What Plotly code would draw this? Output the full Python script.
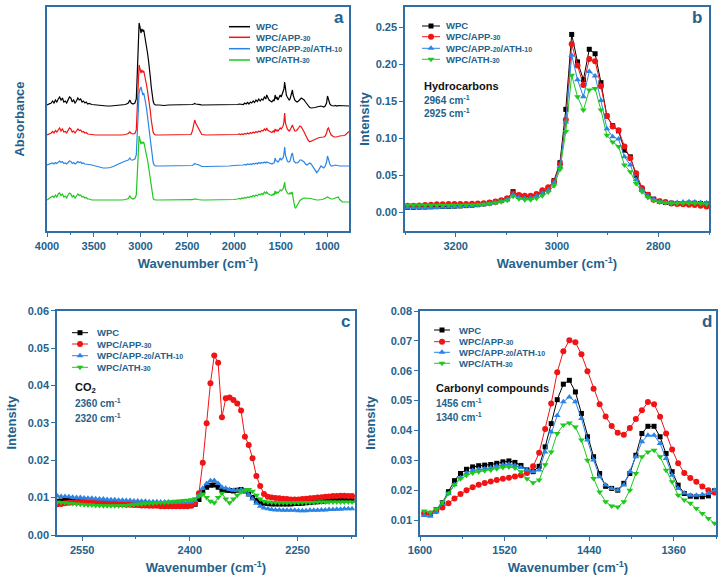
import plotly.graph_objects as go

W, H = 724, 581
SERIES = ["WPC", "WPC/APP-30", "WPC/APP-20/ATH-10", "WPC/ATH-30"]
LEG_LABELS = ["WPC",
              "WPC/APP<span style='font-size:7px'>-30</span>",
              "WPC/APP<span style='font-size:7px'>-20</span>/ATH<span style='font-size:7px'>-10</span>",
              "WPC/ATH<span style='font-size:7px'>-30</span>"]
COLORS = ["#000000", "#f01414", "#2a84e6", "#1ec81e"]
SYMBOLS = ["square", "circle", "triangle-up", "triangle-down"]
MSIZE = [5, 6, 6, 6]

# ---------------- panel a : FTIR spectra (relative absorbance, x0.01) ----------------
WN_A = ([4000, 3985, 3970, 3955, 3940, 3925, 3910, 3895, 3880, 3865, 3850, 3835, 3820, 3805, 3790, 3775,
         3760, 3745, 3730, 3715, 3700, 3685, 3670, 3655, 3640, 3625, 3610, 3595, 3580, 3565, 3550]
        + [3520, 3480, 3440, 3400, 3360, 3320, 3280, 3240, 3200, 3160, 3130, 3114, 3100, 3080, 3060]
        + [3045, 3035, 3025, 3015, 3005, 2995, 2985, 2975, 2965, 2955, 2945, 2935, 2925, 2915, 2905,
           2895, 2885, 2875, 2865, 2855, 2840]
        + [2800, 2750, 2700, 2650, 2600, 2550, 2500, 2460, 2445, 2430, 2420, 2410, 2400, 2390, 2375,
           2360, 2345, 2300, 2250, 2200, 2150, 2100, 2050, 2000]
        + [1960, 1945, 1930, 1915, 1900, 1885, 1870, 1855, 1840, 1825, 1810, 1795, 1780, 1765, 1750,
           1735, 1720, 1705, 1690, 1675, 1660, 1650, 1640, 1625, 1610, 1595, 1580, 1570, 1560, 1550,
           1540, 1530, 1520, 1506, 1495, 1485, 1475, 1466, 1458, 1450, 1440, 1430, 1420, 1410, 1400]
        + [1390, 1382, 1375, 1368, 1360, 1350, 1340, 1325, 1310, 1295, 1280, 1265, 1250, 1235, 1220,
           1205, 1190, 1175, 1160, 1145, 1130, 1115, 1100, 1085, 1070, 1055, 1040, 1025, 1010, 1000,
           990, 975, 960, 945, 930, 915, 900, 885, 870, 855, 840, 825, 810, 795, 780, 770])

ABS_WPC = ([0, 0.5, 1, 2, 4, 2, 5, 3, 6, 8, 5, 7, 3, 4, 2, 5, 8, 7, 3, 5, 2, 4, 7, 5, 6, 3, 4, 2, 3, 1, 1.5]
           + [0.5, 0, -0.5, -1, -1, -1, -0.5, -0.5, 0, 0.5, 2, 5, 2, 1, 2]
           + [6, 30, 65, 82, 78, 72, 76, 74, 75, 70, 66, 60, 52, 45, 38, 28, 18, 10, 4, 1, 0]
           + [0, -0.5, 0, 0, 0, 0, 0, 0, 0.5, 1, 1.5, 1, 1, 1, 0.5, 0.3, 0, 0, 0, 0, 0, 0, 0.3, 0.3]
           + [0.5, 1, 1, 0.5, 0.5, 2, 1, 2.5, 1, 3, 2, 4, 2.5, 5, 3.5, 6, 4, 6, 5, 8, 6,
              10, 7, 5, 4, 3, 5, 4, 10, 6, 8, 5, 7,
              10, 8, 11, 12, 16, 23, 14, 10, 8, 6, 5, 6]
           + [10, 13, 15, 10, 6, 5, 4,
              3, 4, 6, 7, 6, 5, 3, 1, -1, -2.5, -3, -3, -3, -2.5, -2, -1.5, -1, -1, -1.5, -2, -1, 2,
              9, 6,
              1, -0.5, -1, -1, -0.5, -1, -0.5, -0.5, -0.5, -0.5, -1, -1, -1, -1,
              -1])
ABS_APP30 = ([0, 0.5, 1, 2, 3.5, 2, 4.5, 3, 5, 7, 4, 6, 3, 3.5, 2, 4, 7, 6, 3, 4, 2, 4, 6, 4.5, 5, 3, 3.5, 2, 2.5, 1, 1]
             + [0.5, 0, 0, -0.5, -0.5, -0.5, 0, 0, 0, 0.5, 1.5, 3, 1.5, 1, 1.5]
             + [5, 25, 55, 70, 66, 62, 65, 63, 64, 60, 56, 50, 44, 38, 32, 24, 15, 8, 3, 1, 0]
             + [0, 0, 0, 0, 0, 0, 0, 0.5, 4, 11, 15, 12, 10, 9, 5, 2, 0.5, 0, 0, 0, 0, 0, 0.3, 0.5]
             + [0.5, 1, 0.5, 1, 0.5, 1.5, 1, 2, 1, 2.5, 1.5, 3, 2, 3.5, 2.5, 4, 3, 4.5, 4, 6, 4.5,
                7, 5, 4, 3, 2.5, 4, 3, 6, 4, 5, 4, 5,
                7, 6, 8, 9, 13, 22, 12, 8, 6, 5, 4, 5]
             + [7, 9, 10, 8, 5, 4, 4,
                5, 7, 9, 8, 6, 3, 0, -3, -5.5, -6.7, -6, -5, -4.5, -4, -3.5, -3, -2.5, -2.5, -2, -2, -1, 2,
                6, 7,
                3, 0, -1, -2, -2, -2, -1.5, -1, -1, -1, -0.5, 0, 1, 2.5,
                3.5])
ABS_APP20 = ([0, 0.5, 0.5, 1, 2, 1, 2.5, 1.5, 3, 4, 2.5, 3.5, 1.5, 2, 1, 2.5, 4, 3.5, 1.5, 2.5, 1, 2, 3.5, 2.5, 3, 1.5, 2, 1, 1, 0.5, 0.5]
             + [0, -1, -2, -3, -3, -2.5, -1, 1, 2.5, 4, 5, 7, 5, 5, 6]
             + [10, 30, 60, 72, 76, 78, 74, 70, 72, 68, 62, 56, 48, 42, 34, 25, 16, 8, 3, 0, -1]
             + [-1, -1, -1, -1, -1, -1, -1, -1, -0.5, 0.5, 1.5, 1, 1, 0.5, 0, -1, -1.5, -1.5, -1.5, -1.5, -1, -1, -1, -0.5]
             + [-0.5, 0, -0.5, 0, 0, 0.5, 0, 1, 0.5, 1, 0.5, 1.5, 1, 2, 1, 2.5, 1.5, 2.5, 2, 3, 2,
                3, 2.5, 2, 1.5, 1, 2, 2, 7, 4, 4, 3, 4,
                7, 5, 6, 7, 11, 18, 10, 6, 4, 3, 3, 4]
             + [9, 11, 12, 8, 4, 3, 2,
                2, 3, 5, 5, 4, 3, 1, 0, 1, 2, 1, -1, -3, -6, -7.7, -6, -3, -1, -2, -3, -1, 3,
                9, 6,
                1, -1, -1, -0.5, 0, -0.5, -1, -1, -1, -1, -1, -1, -1, -1,
                -1])
ABS_ATH30 = ([0, 1, 1.5, 2.5, 4, 2.5, 5, 3, 6, 7, 4.5, 6, 3, 4, 2, 5, 7, 6, 3, 4.5, 2, 4, 6, 4.5, 5, 3, 3.5, 2, 2.5, 1, 1]
             + [0, 0, -0.5, -0.5, -0.5, -0.5, -0.5, 0, 0, 0.5, 1.5, 4, 2, 1, 2]
             + [5, 25, 55, 64, 60, 56, 58, 57, 58, 54, 50, 46, 40, 34, 28, 20, 12, 6, 2, 0.5, 0]
             + [0, 0, 0, 0, 0, 0, 0, 0, 0.3, 0.8, 1, 0.8, 0.8, 0.5, 0.3, 0, 0, 0, 0, 0, 0, 0.3, 0.5, 0.5]
             + [1, 1.5, 1, 2, 1.5, 2.5, 2, 3, 2.5, 3.5, 3, 4.5, 3.5, 5, 4, 6, 5, 6.5, 5.5, 8, 6.5,
                8, 6.5, 6, 5, 4.5, 6, 5, 9, 6, 8, 7, 8,
                10, 9, 10, 11, 14, 18, 11, 8, 7, 6, 6, 7]
             + [6, 8, 7, 2, -3, -7, -8,
                -6, -3, -0.5, 1, 1.5, 2, 2, 2, 2, 2, 1.5, 1, 0.5, 0, 0, 0, 0, 0, 0.5, 1, 1.5, 2,
                3, 2.5,
                1.5, 1, 1, 1.5, 2, 2.5, 3, 0.5, -1, -2, -2, -2, -2, -2,
                -2])
ABS_A = [ABS_WPC, ABS_APP30, ABS_APP20, ABS_ATH30]
STACK_OFFSET = [1.26, 0.96, 0.66, 0.31]   # vertical offsets used to stack the spectra

# ---------------- panel b : hydrocarbons ----------------
WN_B = [round(3295 - 11.57 * i, 1) for i in range(52)]   # sampling grid
B_WPC = [0.0070, 0.0070, 0.0072, 0.0073, 0.0075, 0.0078, 0.0080, 0.0082, 0.0085, 0.0088, 0.0092, 0.0098, 0.0105,
         0.0115, 0.0128, 0.0142, 0.0160, 0.0185, 0.0280, 0.0230, 0.0210, 0.0215, 0.0240, 0.0275, 0.0320, 0.0430,
         0.0670, 0.1390, 0.2400, 0.2030, 0.1790, 0.2200, 0.2140, 0.1750, 0.1300, 0.1170, 0.1100, 0.0840, 0.0750,
         0.0500, 0.0310, 0.0240, 0.0180, 0.0150, 0.0135, 0.0125, 0.0120, 0.0120, 0.0125, 0.0125, 0.0120, 0.0115]
B_APP30 = [0.0090, 0.0092, 0.0095, 0.0100, 0.0105, 0.0110, 0.0112, 0.0113, 0.0115, 0.0115, 0.0115, 0.0117, 0.0120,
           0.0125, 0.0135, 0.0148, 0.0165, 0.0190, 0.0260, 0.0235, 0.0225, 0.0225, 0.0250, 0.0300, 0.0340, 0.0420,
           0.0650, 0.1250, 0.2270, 0.1980, 0.1720, 0.2070, 0.2040, 0.1700, 0.1300, 0.1160, 0.1110, 0.0890, 0.0730,
           0.0530, 0.0330, 0.0240, 0.0170, 0.0150, 0.0140, 0.0120, 0.0115, 0.0110, 0.0105, 0.0100, 0.0090, 0.0080]
B_APP20 = [0.0065, 0.0064, 0.0064, 0.0064, 0.0066, 0.0068, 0.0070, 0.0072, 0.0075, 0.0080, 0.0085, 0.0090, 0.0098,
           0.0108, 0.0120, 0.0135, 0.0150, 0.0170, 0.0240, 0.0200, 0.0190, 0.0190, 0.0220, 0.0260, 0.0300, 0.0400,
           0.0620, 0.1220, 0.2120, 0.1790, 0.1560, 0.1900, 0.1840, 0.1510, 0.1130, 0.1020, 0.0990, 0.0750, 0.0640,
           0.0440, 0.0300, 0.0220, 0.0170, 0.0140, 0.0130, 0.0130, 0.0135, 0.0140, 0.0145, 0.0140, 0.0135, 0.0130]
B_ATH30 = [0.0100, 0.0100, 0.0100, 0.0098, 0.0098, 0.0097, 0.0097, 0.0098, 0.0098, 0.0098, 0.0100, 0.0102, 0.0105,
           0.0110, 0.0118, 0.0130, 0.0145, 0.0165, 0.0220, 0.0185, 0.0170, 0.0170, 0.0190, 0.0225, 0.0275, 0.0360,
           0.0580, 0.1090, 0.1850, 0.1560, 0.1380, 0.1650, 0.1670, 0.1380, 0.1040, 0.0950, 0.0890, 0.0640, 0.0550,
           0.0390, 0.0280, 0.0200, 0.0160, 0.0140, 0.0130, 0.0125, 0.0125, 0.0125, 0.0125, 0.0125, 0.0120, 0.0115]

# ---------------- panel c : CO2 ----------------
WN_C = [round(2584.5 - 5.33 * i, 1) for i in range(78)]   # sampling grid
C_WPC = ([0.0090, 0.0091, 0.0092, 0.0092, 0.0091, 0.0090, 0.0090, 0.0089, 0.0088, 0.0088, 0.0087, 0.0086,
          0.0086, 0.0085, 0.0084, 0.0084, 0.0083, 0.0083, 0.0082, 0.0082, 0.0081, 0.0081, 0.0080, 0.0080,
          0.0080, 0.0079, 0.0079, 0.0079, 0.0078, 0.0078, 0.0078, 0.0078, 0.0078, 0.0078, 0.0078, 0.0079]
         + [0.0082, 0.0095, 0.0115, 0.0128, 0.0133, 0.0134, 0.0128, 0.0122, 0.0120, 0.0119, 0.0118, 0.0120,
            0.0122, 0.0118, 0.0110, 0.0100, 0.0092, 0.0087, 0.0085]
         + [0.0084, 0.0083, 0.0083, 0.0083, 0.0083, 0.0083, 0.0083, 0.0084, 0.0084, 0.0085, 0.0086, 0.0087,
            0.0088, 0.0089, 0.0090, 0.0091, 0.0092, 0.0092, 0.0093, 0.0093, 0.0093, 0.0093, 0.0093])
C_APP30 = ([0.0082, 0.0083, 0.0085, 0.0086, 0.0087, 0.0088, 0.0088, 0.0088, 0.0087, 0.0087, 0.0086, 0.0086,
            0.0085, 0.0085, 0.0084, 0.0083, 0.0083, 0.0082, 0.0081, 0.0081, 0.0080, 0.0080, 0.0079, 0.0079,
            0.0078, 0.0078, 0.0078, 0.0077, 0.0077, 0.0077, 0.0077, 0.0077, 0.0077, 0.0077, 0.0077, 0.0078]
           + [0.0085, 0.0112, 0.0193, 0.0299, 0.0406, 0.0480, 0.0461, 0.0315, 0.0366, 0.0368, 0.0361, 0.0352,
              0.0333, 0.0263, 0.0241, 0.0205, 0.0158, 0.0131, 0.0110]
           + [0.0102, 0.0100, 0.0099, 0.0098, 0.0097, 0.0096, 0.0095, 0.0095, 0.0095, 0.0096, 0.0097, 0.0098,
              0.0099, 0.0100, 0.0101, 0.0102, 0.0103, 0.0104, 0.0104, 0.0105, 0.0105, 0.0104, 0.0104])
C_APP20 = ([0.0104, 0.0103, 0.0103, 0.0102, 0.0101, 0.0100, 0.0100, 0.0099, 0.0098, 0.0098, 0.0097, 0.0096,
            0.0096, 0.0095, 0.0094, 0.0094, 0.0093, 0.0093, 0.0092, 0.0092, 0.0091, 0.0091, 0.0090, 0.0090,
            0.0089, 0.0089, 0.0089, 0.0088, 0.0088, 0.0088, 0.0087, 0.0087, 0.0087, 0.0087, 0.0087, 0.0088]
           + [0.0092, 0.0105, 0.0125, 0.0138, 0.0145, 0.0146, 0.0138, 0.0128, 0.0125, 0.0122, 0.0120, 0.0120,
              0.0121, 0.0117, 0.0108, 0.0096, 0.0085, 0.0077, 0.0072]
           + [0.0070, 0.0068, 0.0067, 0.0067, 0.0066, 0.0066, 0.0066, 0.0066, 0.0065, 0.0065, 0.0065, 0.0066,
              0.0066, 0.0066, 0.0067, 0.0067, 0.0068, 0.0068, 0.0069, 0.0069, 0.0070, 0.0070, 0.0070])
C_ATH30 = ([0.0088, 0.0087, 0.0086, 0.0085, 0.0084, 0.0083, 0.0082, 0.0081, 0.0080, 0.0080, 0.0079, 0.0079,
            0.0078, 0.0078, 0.0078, 0.0078, 0.0078, 0.0079, 0.0079, 0.0080, 0.0081, 0.0082, 0.0083, 0.0084,
            0.0085, 0.0085, 0.0086, 0.0087, 0.0087, 0.0088, 0.0089, 0.0090, 0.0091, 0.0092, 0.0093, 0.0094]
           + [0.0097, 0.0104, 0.0110, 0.0100, 0.0090, 0.0086, 0.0100, 0.0112, 0.0096, 0.0086, 0.0096, 0.0106,
              0.0115, 0.0120, 0.0122, 0.0117, 0.0106, 0.0096, 0.0090]
           + [0.0088, 0.0087, 0.0087, 0.0086, 0.0086, 0.0086, 0.0086, 0.0086, 0.0086, 0.0087, 0.0087, 0.0087,
              0.0087, 0.0088, 0.0088, 0.0088, 0.0088, 0.0088, 0.0088, 0.0088, 0.0088, 0.0088, 0.0088])

# ---------------- panel d : carbonyl compounds ----------------
WN_D = [round(1596 - 5.72 * i, 1) for i in range(49)]   # sampling grid
D_WPC = [0.0122, 0.0120, 0.0135, 0.0158, 0.0195, 0.0232, 0.0256, 0.0270, 0.0278, 0.0282, 0.0284, 0.0286, 0.0290,
         0.0295, 0.0298, 0.0293, 0.0283, 0.0268, 0.0262, 0.0280, 0.0345, 0.0423, 0.0503, 0.0555, 0.0568, 0.0529,
         0.0457, 0.0379, 0.0312, 0.0256, 0.0213, 0.0206, 0.0200, 0.0223, 0.0256, 0.0317, 0.0390, 0.0414, 0.0414,
         0.0379, 0.0323, 0.0262, 0.0217, 0.0189, 0.0180, 0.0178, 0.0178, 0.0181, 0.0198]
D_APP30 = [0.0122, 0.0122, 0.0130, 0.0142, 0.0156, 0.0172, 0.0187, 0.0200, 0.0210, 0.0218, 0.0224, 0.0229, 0.0234,
           0.0238, 0.0242, 0.0246, 0.0250, 0.0258, 0.0280, 0.0325, 0.0405, 0.0490, 0.0595, 0.0665, 0.0702, 0.0695,
           0.0655, 0.0598, 0.0540, 0.0488, 0.0447, 0.0415, 0.0392, 0.0386, 0.0408, 0.0438, 0.0468, 0.0495, 0.0488,
           0.0446, 0.0390, 0.0336, 0.0290, 0.0258, 0.0241, 0.0228, 0.0212, 0.0200, 0.0192]
D_APP20 = [0.0115, 0.0113, 0.0128, 0.0155, 0.0188, 0.0218, 0.0242, 0.0258, 0.0266, 0.0270, 0.0272, 0.0275, 0.0280,
           0.0285, 0.0287, 0.0283, 0.0276, 0.0268, 0.0262, 0.0268, 0.0328, 0.0395, 0.0450, 0.0496, 0.0512, 0.0496,
           0.0440, 0.0368, 0.0301, 0.0245, 0.0217, 0.0206, 0.0200, 0.0217, 0.0262, 0.0312, 0.0362, 0.0384, 0.0384,
           0.0356, 0.0306, 0.0250, 0.0206, 0.0191, 0.0183, 0.0183, 0.0186, 0.0189, 0.0200]
D_ATH30 = [0.0130, 0.0126, 0.0138, 0.0160, 0.0190, 0.0218, 0.0238, 0.0250, 0.0258, 0.0262, 0.0265, 0.0268, 0.0272,
           0.0276, 0.0278, 0.0274, 0.0262, 0.0238, 0.0225, 0.0234, 0.0285, 0.0328, 0.0390, 0.0418, 0.0425, 0.0412,
           0.0368, 0.0300, 0.0239, 0.0194, 0.0161, 0.0147, 0.0144, 0.0161, 0.0200, 0.0256, 0.0312, 0.0328, 0.0334,
           0.0312, 0.0267, 0.0228, 0.0183, 0.0167, 0.0156, 0.0139, 0.0122, 0.0105, 0.0089]

# ---------------- figure ----------------
AX_LINE = "#2f6fa6"
TXT = "#24628c"
FONT = "Liberation Sans, Arial, sans-serif"

fig = go.Figure()

def pdom(x0, x1, y0, y1):
    return [x0 / W, x1 / W], [1 - y1 / H, 1 - y0 / H]

doms = {
    1: pdom(47, 349, 7, 231),
    2: pdom(405, 709, 7, 231),
    3: pdom(57, 355, 310.7, 535),
    4: pdom(420, 716, 311, 535),
}

for k in range(4):
    y = [v * 0.01 + STACK_OFFSET[k] for v in ABS_A[k]]
    fig.add_trace(go.Scatter(x=WN_A, y=y, mode="lines", line=dict(color=COLORS[k], width=1.2),
                             xaxis="x", yaxis="y", showlegend=False))

def add_marked(xs, ys, ax, k):
    fig.add_trace(go.Scatter(x=xs, y=ys, mode="lines+markers",
                             line=dict(color=COLORS[k], width=1),
                             marker=dict(symbol=SYMBOLS[k], size=MSIZE[k], color=COLORS[k]),
                             xaxis="x" + ax, yaxis="y" + ax, showlegend=False))

for k, ys in enumerate([B_WPC, B_APP30, B_APP20, B_ATH30]):
    add_marked(WN_B, ys, "2", k)
for k, ys in enumerate([C_WPC, C_APP30, C_APP20, C_ATH30]):
    add_marked(WN_C, ys, "3", k)
for k, ys in enumerate([D_WPC, D_APP30, D_APP20, D_ATH30]):
    add_marked(WN_D, ys, "4", k)

tickfont = dict(family=FONT, size=11, color=TXT, weight="bold")
titlefont = dict(family=FONT, size=13, color=TXT, weight="bold")

def xaxis(i, rng, tick0, dtick, mdtick):
    d = doms[i][0]
    return dict(domain=d, range=rng, anchor="y" + ("" if i == 1 else str(i)), automargin=False,
                tickmode="linear", tick0=tick0, dtick=dtick, ticks="outside", ticklen=4,
                tickwidth=1, tickcolor=AX_LINE, showline=True, linecolor=AX_LINE, linewidth=1.5,
                mirror=True, showgrid=False, zeroline=False, tickfont=tickfont,
                minor=dict(ticks="outside", ticklen=2, dtick=mdtick, tickcolor=AX_LINE),
                title=dict(text="Wavenumber (cm<sup>-1</sup>)", font=titlefont, standoff=8))

def yaxis(i, rng, dtick, title, show=True, tick0=0.0, standoff=3):
    d = doms[i][1]
    ax = dict(domain=d, range=rng, anchor="x" + ("" if i == 1 else str(i)), automargin=False,
              showline=True, linecolor=AX_LINE, linewidth=1.5, mirror=True, showgrid=False,
              zeroline=False, tickfont=tickfont,
              title=dict(text=title, font=titlefont, standoff=standoff))
    if show:
        ax.update(tickmode="linear", tick0=tick0, dtick=dtick, tickformat=".2f", ticks="outside",
                  ticklen=4, tickwidth=1, tickcolor=AX_LINE)
    else:
        ax.update(showticklabels=False, ticks="")
    return ax

fig.update_layout(
    width=W, height=H, margin=dict(l=0, r=0, t=0, b=0),
    paper_bgcolor="white", plot_bgcolor="rgba(0,0,0,0)", showlegend=False,
    font=dict(family=FONT, color=TXT),
    xaxis=xaxis(1, [4000, 770], 1000, 500, 250),
    yaxis=yaxis(1, [0, 2.24], 1, "Absorbance", show=False, standoff=18),
    xaxis2=xaxis(2, [3300, 2700], 2800, 200, 100),
    yaxis2=yaxis(2, [-0.025, 0.277], 0.05, "Intensity", standoff=3),
    xaxis3=xaxis(3, [2585, 2170], 2250, 150, 75),
    yaxis3=yaxis(3, [0, 0.06], 0.01, "Intensity", standoff=8),
    xaxis4=xaxis(4, [1600, 1320], 1360, 80, 40),
    yaxis4=yaxis(4, [0.005, 0.08], 0.01, "Intensity", tick0=0.01, standoff=12),
    xaxis5=dict(domain=[0, 1], range=[0, W], visible=False, anchor="y5", fixedrange=True, automargin=False),
    yaxis5=dict(domain=[0, 1], range=[H, 0], visible=False, anchor="x5", fixedrange=True, automargin=False),
)

LEG = [
    (229, 250, 254, [26.7, 37.3, 48.7, 60.0], False),
    (422, 440, 444, [26.0, 36.7, 48.3, 59.3], True),
    (72, 88, 95, [332.7, 344.0, 355.7, 367.3], True),
    (434, 450, 457, [330.0, 341.7, 352.3, 363.3], True),
]
annotations = []
for (x0, x1, tx, rows, mk) in LEG:
    for k in range(4):
        fig.add_trace(go.Scatter(x=[x0, x1], y=[rows[k], rows[k]], mode="lines",
                                 line=dict(color=COLORS[k], width=1.5 if not mk else 1),
                                 xaxis="x5", yaxis="y5", showlegend=False, hoverinfo="skip"))
        if mk:
            fig.add_trace(go.Scatter(x=[(x0 + x1) / 2], y=[rows[k]], mode="markers",
                                     marker=dict(symbol=SYMBOLS[k], size=MSIZE[k], color=COLORS[k]),
                                     xaxis="x5", yaxis="y5", showlegend=False, hoverinfo="skip"))
        annotations.append(dict(x=tx / W, y=1 - rows[k] / H, xref="paper", yref="paper",
                                text=LEG_LABELS[k], showarrow=False,
                                xanchor="left", yanchor="middle",
                                font=dict(family=FONT, size=9.5, color=TXT, weight="bold")))

def txt(x, y, s, size, color, anchor="left"):
    annotations.append(dict(x=x / W, y=1 - y / H, xref="paper", yref="paper", text=s,
                            showarrow=False, xanchor=anchor, yanchor="middle",
                            font=dict(family=FONT, size=size, color=color, weight="bold")))

txt(339, 18, "a", 17, TXT, "center")
txt(697, 18, "b", 17, TXT, "center")
txt(345, 321, "c", 17, TXT, "center")
txt(707, 321, "d", 17, TXT, "center")

txt(422, 86, "Hydrocarbons", 11, "#111111")
txt(422, 99.5, "2964 cm<sup>-1</sup>", 10, TXT)
txt(422, 113, "2925 cm<sup>-1</sup>", 10, TXT)
txt(73, 388, "CO<sub>2</sub>", 11, "#111111")
txt(73, 403, "2360 cm<sup>-1</sup>", 10, TXT)
txt(73, 418, "2320 cm<sup>-1</sup>", 10, TXT)
txt(434, 388, "Carbonyl compounds", 11, "#111111")
txt(434, 403, "1456 cm<sup>-1</sup>", 10, TXT)
txt(434, 417, "1340 cm<sup>-1</sup>", 10, TXT)

fig.update_layout(annotations=annotations)
fig.write_html("out.html", config={"displayModeBar": False},
               post_script="document.body.style.margin='0px';")
